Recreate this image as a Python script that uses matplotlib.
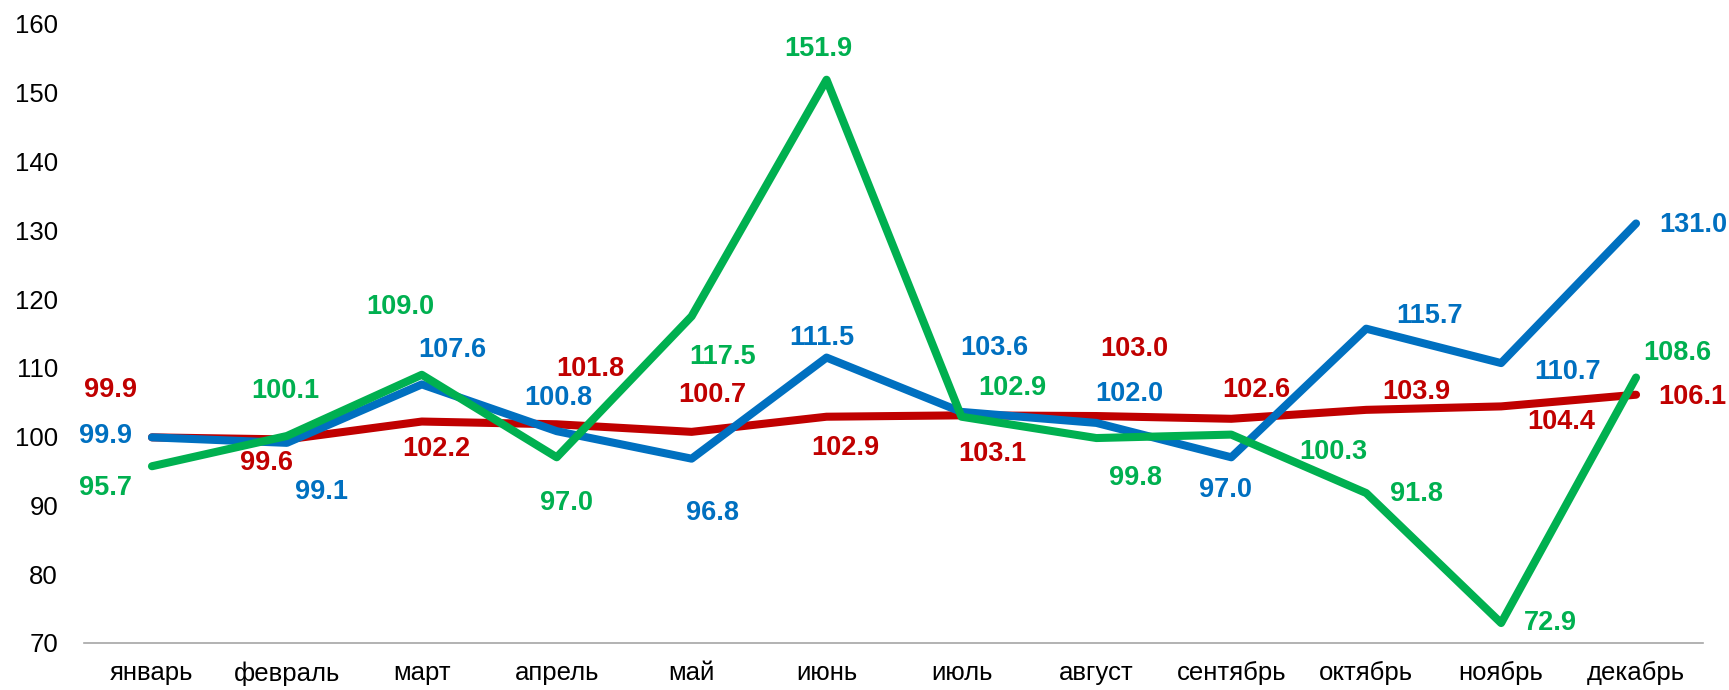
import matplotlib
matplotlib.use("Agg")
import matplotlib.pyplot as plt

plt.rcParams['font.family'] = ['Liberation Sans', 'DejaVu Sans']

months = ["январь", "февраль", "март", "апрель", "май", "июнь", "июль",
          "август", "сентябрь", "октябрь", "ноябрь", "декабрь"]
red_vals = [99.9, 99.6, 102.2, 101.8, 100.7, 102.9, 103.1, 103.0, 102.6, 103.9, 104.4, 106.1]
blue_vals = [99.9, 99.1, 107.6, 100.8, 96.8, 111.5, 103.6, 102.0, 97.0, 115.7, 110.7, 131.0]
green_vals = [95.7, 100.1, 109.0, 97.0, 117.5, 151.9, 102.9, 99.8, 100.3, 91.8, 72.9, 108.6]
y_ticks = [70, 80, 90, 100, 110, 120, 130, 140, 150, 160]

# label offsets in pixels (dx, dy with dy positive = up)
red_off = [(-41, 47), (-20, -24), (15, -27), (34, 55), (21, 37), (19, -31),
           (31, -39), (38, 67), (25, 29), (50, 18), (60, -16), (56, -2)]
blue_off = [(-46, 1), (35, -49), (31, 34), (2, 33), (21, -54), (-5, 20),
            (33, 64), (33, 29), (-6, -33), (63, 13), (66, -9), (57, -2)]
green_off = [(-46, -22), (-2, 45), (-21, 68), (10, -46), (31, -41), (-8, 31),
             (51, 29), (39, -40), (102, -17), (50, -1), (49, 0), (41, 25)]

RED = "#C00000"
BLUE = "#0070C0"
GREEN = "#00B050"

fig = plt.figure(figsize=(17.29, 6.9), dpi=100)
ax = fig.add_axes([84.5 / 1729, 1 - 643 / 690, (1703.5 - 84.5) / 1729, (643 - 24) / 690])

x = list(range(len(months)))
series = [(red_vals, RED, red_off), (blue_vals, BLUE, blue_off), (green_vals, GREEN, green_off)]
for vals, col, offs in series:
    ax.plot(x, vals, color=col, lw=5.8, solid_capstyle='round', solid_joinstyle='round', zorder=3)
for vals, col, offs in series:
    for xi, v, (dx, dy) in zip(x, vals, offs):
        ax.annotate(f"{v:.1f}", (xi, v), xytext=(dx, dy), textcoords='offset pixels',
                    ha='center', va='center', color=col, fontsize=19.5, fontweight='bold',
                    zorder=5)

ax.set_xlim(-0.5, len(months) - 0.5)
ax.set_ylim(70, 160)
ax.set_yticks(y_ticks)
ax.set_xticks(x)
ax.set_xticklabels(months)
ax.tick_params(axis='both', length=0, labelsize=18.5, colors='black')
ax.tick_params(axis='y', pad=19)
ax.tick_params(axis='x', pad=13)
for s in ['top', 'right', 'left']:
    ax.spines[s].set_visible(False)
ax.spines['bottom'].set_color('#A6A6A6')
ax.spines['bottom'].set_linewidth(1.2)

fig.savefig("out.png", dpi=100)
